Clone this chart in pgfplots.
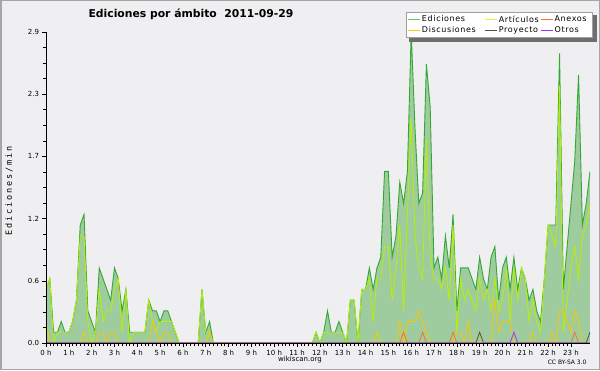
\documentclass[border=0pt]{standalone}
\usepackage{fontspec}
\setmainfont{DejaVu Sans}
\newfontfamily\monof[LetterSpace=23]{DejaVu Sans Mono}
\newfontfamily\legf[LetterSpace=8]{DejaVu Sans}
\usepackage{pgfplots}
\pgfplotsset{compat=1.18}
\usepackage{pgfplotstable}
\usetikzlibrary{calc}

\definecolor{bgc}{RGB}{239,239,241}
\definecolor{edfill}{RGB}{158,204,158}
\definecolor{edline}{RGB}{51,168,51}
\definecolor{edleg}{RGB}{102,204,102}
\definecolor{artc}{RGB}{184,240,0}
\definecolor{artleg}{RGB}{204,255,51}
\definecolor{disc}{RGB}{250,200,0}
\definecolor{anec}{RGB}{255,110,50}
\definecolor{proc}{RGB}{80,80,80}
\definecolor{otrc}{RGB}{150,50,255}
\definecolor{shadowc}{RGB}{110,110,110}

\pgfplotsset{
 layers/mylayers/.define layer set={
   axis background,axis grid,main,axis ticks,axis lines,axis tick labels,axis descriptions,axis foreground
 }{/pgfplots/layers/standard},
}

\pgfplotstableread{
i E A D N P O
0 0.5 0.5 0.2 0 0 0
1 0.6 0.6 0 0 0 0
2 0.1 0 0 0 0 0
3 0.1 0.1 0 0 0 0
4 0.2 0.1 0 0 0 0
5 0.1 0.1 0 0 0 0
6 0.1 0.1 0 0 0 0
7 0.2 0.2 0 0 0 0
8 0.4 0.4 0 0 0 0
9 1.1 1.0 0 0 0 0
10 1.2 1.0 0.1 0 0 0
11 0.3 0.2 0 0 0 0
12 0.2 0 0 0 0 0
13 0.1 0.1 0 0 0 0
14 0.7 0.5 0.1 0 0 0
15 0.6 0.2 0.1 0 0 0
16 0.5 0.3 0 0 0 0
17 0.4 0.3 0.1 0 0 0
18 0.7 0.5 0.1 0 0 0
19 0.6 0.6 0 0 0 0
20 0.3 0.1 0 0 0 0
21 0.5 0.5 0 0 0 0
22 0.1 0 0 0 0 0
23 0.1 0.1 0 0 0 0
24 0.1 0.1 0 0 0 0
25 0.1 0.1 0 0 0 0
26 0.1 0.1 0 0 0 0
27 0.4 0.4 0 0 0 0
28 0.3 0.2 0.2 0 0 0
29 0.3 0.1 0.1 0 0 0
30 0.2 0.2 0 0 0 0
31 0.3 0.2 0.1 0 0 0
32 0.3 0.2 0.1 0 0 0
33 0.2 0.2 0 0 0 0
34 0.1 0.1 0 0 0 0
35 0 0 0 0 0 0
36 0 0 0 0 0 0
37 0 0 0 0 0 0
38 0 0 0 0 0 0
39 0 0 0 0 0 0
40 0 0 0 0 0 0
41 0.5 0.5 0 0 0 0
42 0.1 0.1 0 0 0 0
43 0.2 0.1 0.1 0 0 0
44 0 0 0 0 0 0
45 0 0 0 0 0 0
46 0 0 0 0 0 0
47 0 0 0 0 0 0
48 0 0 0 0 0 0
49 0 0 0 0 0 0
50 0 0 0 0 0 0
51 0 0 0 0 0 0
52 0 0 0 0 0 0
53 0 0 0 0 0 0
54 0 0 0 0 0 0
55 0 0 0 0 0 0
56 0 0 0 0 0 0
57 0 0 0 0 0 0
58 0 0 0 0 0 0
59 0 0 0 0 0 0
60 0 0 0 0 0 0
61 0 0 0 0 0 0
62 0 0 0 0 0 0
63 0 0 0 0 0 0
64 0 0 0 0 0 0
65 0 0 0 0 0 0
66 0 0 0 0 0 0
67 0 0 0 0 0 0
68 0 0 0 0 0 0
69 0 0 0 0 0 0
70 0 0 0 0 0 0
71 0.1 0.1 0 0 0 0
72 0 0 0 0 0 0
73 0.1 0.1 0 0 0 0
74 0.3 0.1 0 0 0 0
75 0.1 0.1 0 0 0 0
76 0.1 0.1 0 0 0 0
77 0.2 0.1 0 0 0 0
78 0.1 0.1 0 0 0 0
79 0 0 0 0 0 0
80 0.4 0.4 0 0 0 0
81 0.4 0.4 0 0 0 0
82 0 0 0 0 0 0
83 0.5 0.5 0 0 0 0
84 0.5 0.5 0 0 0 0
85 0.7 0.6 0 0 0 0
86 0.5 0.2 0 0 0 0
87 0.7 0.6 0.1 0 0 0
88 0.8 0.6 0 0 0 0
89 1.6 0.9 0 0 0 0
90 1.6 0.9 0 0 0 0
91 0.8 0.4 0 0 0 0
92 1.0 0.7 0 0 0 0
93 1.5 1.1 0.2 0 0 0
94 1.3 0.3 0 0.1 0 0
95 1.6 1.2 0.2 0 0 0
96 2.9 2.1 0.2 0 0 0
97 2.0 1.0 0.2 0 0 0
98 1.3 0.7 0.3 0 0 0
99 1.4 0.6 0.2 0.1 0 0
100 2.6 1.9 0.1 0 0 0
101 2.2 0.8 0 0 0 0
102 0.7 0.6 0 0 0 0
103 0.8 0.6 0 0 0 0
104 0.6 0.5 0 0 0 0
105 1.0 0.7 0 0 0 0
106 0.7 0.4 0 0 0 0
107 1.2 1.1 0 0.1 0 0
108 0.3 0.1 0.1 0 0 0
109 0.7 0.6 0.1 0 0 0
110 0.7 0.4 0 0 0 0
111 0.7 0.5 0.2 0 0 0
112 0.6 0.4 0 0 0 0
113 0.5 0.3 0 0 0 0
114 0.8 0.6 0.1 0 0.1 0
115 0.6 0.4 0 0 0 0
116 0.5 0.5 0 0 0 0
117 0.8 0.3 0 0 0 0
118 0.9 0.6 0.4 0 0 0
119 0.4 0.3 0.1 0 0 0
120 0.7 0.4 0.2 0 0 0
121 0.8 0.7 0.2 0 0 0
122 0.5 0.2 0.2 0 0 0
123 0.8 0.7 0 0 0 0.1
124 0.5 0.4 0 0 0 0
125 0.7 0.7 0 0 0 0
126 0.6 0.6 0 0 0 0
127 0.4 0.2 0 0 0 0
128 0.5 0.4 0.1 0 0 0
129 0.3 0.2 0 0 0 0
130 0.2 0.1 0 0 0 0
131 0.6 0.6 0 0 0 0
132 1.1 1.1 0 0 0 0
133 1.1 1.0 0.1 0 0 0
134 1.1 0.9 0 0 0 0
135 2.7 2.4 0.3 0 0 0
136 0.5 0.1 0.3 0 0 0
137 0.9 0.4 0.2 0 0 0
138 1.3 0.7 0.1 0 0 0
139 1.7 0.9 0.3 0.1 0 0
140 2.5 0.6 0.2 0 0 0
141 1.1 1.0 0 0 0 0
142 1.3 1.1 0 0 0 0
143 1.6 1.3 0 0 0.1 0
}\datatable

\begin{document}
\begin{tikzpicture}[x=1pt,y=1pt]
\fill[bgc] (0,0) rectangle (600,370);
\draw[gray!70, line width=1.5pt] (0.75,0.75) rectangle (599.25,369.25);
% legend shadow, drawn under the legend box (box spans about x 406..593, y 333..358)
\fill[shadowc] (409,329) rectangle (597,355);
\begin{axis}[
  set layers=mylayers,
  at={(46pt,27pt)}, anchor=south west,
  scale only axis, width=544pt, height=311pt,
  xmin=0, xmax=23.8333, ymin=0, ymax=2.9,
  axis lines=left, axis line style={-, black, line width=0.8pt},
  tick align=outside,
  tick style={black, line width=0.6pt},
  major tick length=3.5pt, minor tick length=3pt,
  xtick={0,1,...,23},
  xticklabels={0 h,1 h,2 h,3 h,4 h,5 h,6 h,7 h,8 h,9 h,10 h,11 h,12 h,13 h,14 h,15 h,16 h,17 h,18 h,19 h,20 h,21 h,22 h,23 h},
  minor x tick num=5,
  ytick={0,0.58,1.16,1.74,2.32,2.9},
  yticklabels={0.0,0.6,1.2,1.7,2.3,2.9},
  minor y tick num=3,
  ymajorgrids, major grid style={gray!35, line width=0.7pt},
  ticklabel style={font=\fontsize{7}{8}\selectfont},
  /pgf/number format/assume math mode=true,
  legend columns=3,
  legend cell align=left,
  legend style={at={(axis description cs:1.0055,1.0643)}, anchor=north east,
    name=leg,
    draw=gray!75, line width=0.8pt, fill=white, font=\legf\fontsize{8}{9}\selectfont,
    inner xsep=1.5pt, inner ysep=2pt, row sep=0pt,
    nodes={inner xsep=1.5pt, inner ysep=0pt, minimum height=10.5pt},
    /tikz/column sep=0pt,
    /tikz/column 2/.style={nodes={text width=59pt}, column sep=2pt},
    /tikz/column 4/.style={nodes={text width=38pt}, column sep=2pt},
    /tikz/column 6/.style={nodes={text width=35pt}}},
  legend image code/.code={\draw[#1, line width=0.8pt] (0pt,0pt) -- (12pt,0pt);},
]
\addlegendimage{edleg}
\addlegendentry{Ediciones}
\addlegendimage{artleg}
\addlegendentry{Artículos}
\addlegendimage{anec}
\addlegendentry{Anexos}
\addlegendimage{disc}
\addlegendentry{Discusiones}
\addlegendimage{proc}
\addlegendentry{Proyecto}
\addlegendimage{otrc}
\addlegendentry{Otros}

\addplot[fill=edfill, draw=none, forget plot] table[x expr=\thisrow{i}/6, y=E] {\datatable} \closedcycle;
\addplot[edline, line width=0.9pt, forget plot] table[x expr=\thisrow{i}/6, y=E] {\datatable};
\addplot[artc, line width=0.8pt, forget plot] table[x expr=\thisrow{i}/6, y=A] {\datatable};
\addplot[disc, line width=0.8pt, forget plot] table[x expr=\thisrow{i}/6, y=D] {\datatable};
\addplot[anec, line width=0.8pt, forget plot] table[x expr=\thisrow{i}/6, y=N] {\datatable};
\addplot[proc, line width=0.8pt, forget plot] table[x expr=\thisrow{i}/6, y=P] {\datatable};
\addplot[otrc, line width=0.8pt, forget plot] table[x expr=\thisrow{i}/6, y=O] {\datatable};
\end{axis}
\begin{pgfonlayer}{axis foreground}
\fill[shadowc] ($(leg.north east)+(0,-3)$) rectangle ($(leg.south east)+(4,-4)$);
\fill[shadowc] ($(leg.south west)+(3,0)$) rectangle ($(leg.south east)+(4,-4)$);
\end{pgfonlayer}
\node[anchor=west, font=\bfseries\fontsize{10.8}{12}\selectfont] at (85,356) {Ediciones por ámbito\ \ 2011-09-29};
\node[rotate=90, font=\monof\fontsize{8.5}{9}\selectfont] at (9,179) {Ediciones/min};
\node[font=\fontsize{7}{8}\selectfont] at (300,10) {wikiscan.org};
\node[anchor=east, font=\fontsize{6}{7}\selectfont] at (590,8) {CC BY-SA 3.0};
\end{tikzpicture}
\end{document}
